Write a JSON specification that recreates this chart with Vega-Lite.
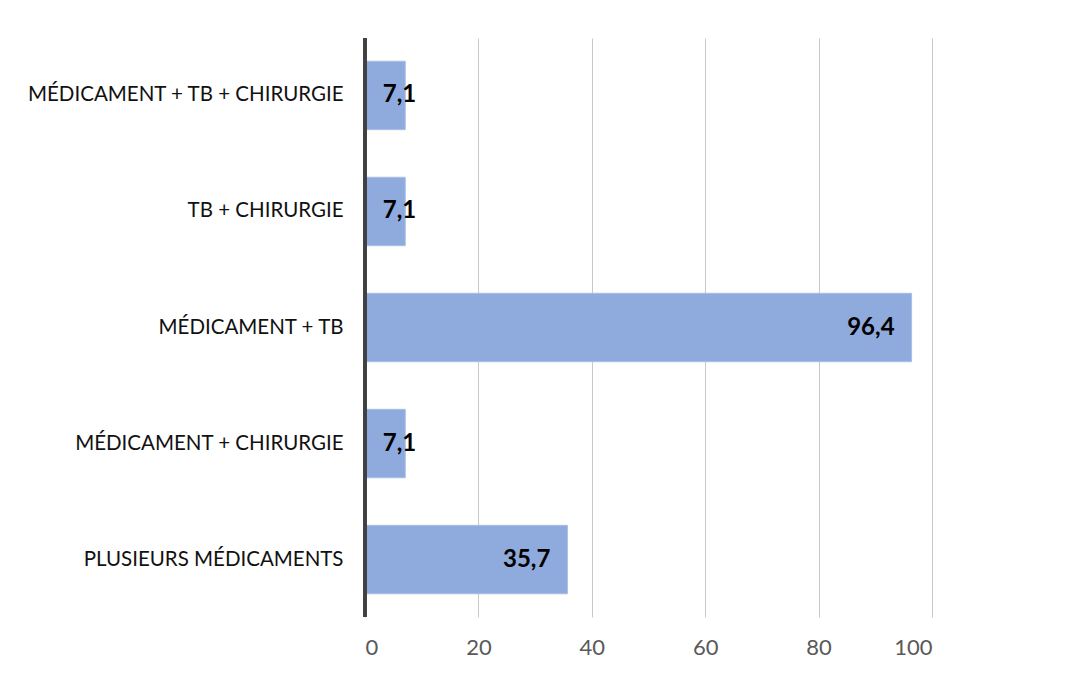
{
  "$schema": "https://vega.github.io/schema/vega-lite/v6.json",
  "width": 567,
  "height": 579,
  "autosize": {"type": "none"},
  "padding": {"left": 365, "top": 38, "right": 151, "bottom": 58},
  "background": "white",
  "config": {"view": {"stroke": null}, "font": "Lato"},
  "data": {"values": [
    {"categorie": "MÉDICAMENT + TB + CHIRURGIE", "valeur": 7.1, "label": "7,1"},
    {"categorie": "TB + CHIRURGIE", "valeur": 7.1, "label": "7,1"},
    {"categorie": "MÉDICAMENT + TB", "valeur": 96.4, "label": "96,4"},
    {"categorie": "MÉDICAMENT + CHIRURGIE", "valeur": 7.1, "label": "7,1"},
    {"categorie": "PLUSIEURS MÉDICAMENTS", "valeur": 35.7, "label": "35,7"}
  ]},
  "encoding": {
    "y": {"field": "categorie", "type": "nominal", "sort": null,
      "scale": {"paddingInner": 0.41, "paddingOuter": 0.2},
      "axis": {"title": null, "ticks": false, "domain": false, "labelFontSize": 20.5, "labelLimit": 0, "labelColor": "#111111", "labelPadding": 22, "labelFont": "Lato"}},
    "x": {"field": "valeur", "type": "quantitative",
      "scale": {"domain": [0, 100], "nice": false},
      "axis": {"title": null, "values": [0, 20, 40, 60, 80, 100], "grid": true, "gridColor": "#c8c8c8", "gridWidth": 1, "domain": false, "ticks": false, "labelFontSize": 22, "labelColor": "#595959", "labelPadding": 20, "labelFont": "Lato"}}
  },
  "layer": [
    {"mark": {"type": "bar", "color": "#8FAADC", "stroke": "#a9bfe6", "strokeWidth": 1}},
    {"mark": {"type": "rule", "color": "#404040", "strokeWidth": 3}, "encoding": {"x": {"datum": 0}, "y": null}},
    {"transform": [{"filter": "datum.valeur > 20"}],
      "mark": {"type": "text", "align": "right", "dx": -17, "fontSize": 24, "fontWeight": "bold", "color": "#000000", "font": "Lato"},
      "encoding": {"text": {"field": "label"}}},
    {"transform": [{"filter": "datum.valeur <= 20"}],
      "mark": {"type": "text", "align": "right", "dx": 11, "fontSize": 24, "fontWeight": "bold", "color": "#000000", "font": "Lato"},
      "encoding": {"text": {"field": "label"}}}
  ]
}
